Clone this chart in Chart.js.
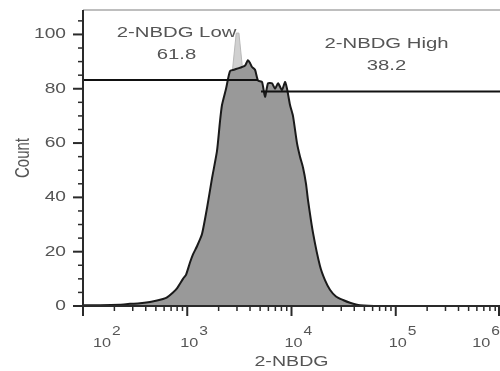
<!DOCTYPE html>
<html>
<head>
<meta charset="utf-8">
<script src="https://cdn.jsdelivr.net/npm/chart.js@4.4.1/dist/chart.umd.min.js"></script>
<style>
  html, body { margin: 0; padding: 0; background: #fff; }
  #wrap { width: 500px; height: 371px; }
</style>
</head>
<body>
<div id="wrap"><canvas id="histChart"></canvas></div>
<script>
// 2-NBDG fluorescence (x) and event count (y)
const histX = [100, 146, 226, 282, 352, 439, 513, 585, 640, 730,
  797, 910, 973, 1062, 1135, 1240, 1385, 1546, 1727, 1928,
  2061, 2154, 2355, 2570, 2806, 3069, 3350, 3581, 3826, 4000,
  4180, 4467, 4775, 5212, 5570, 5953, 6500, 6950, 7430, 8110,
  8670, 9060, 9680, 10330, 11290, 12070, 12890, 13780, 14400, 16070,
  18760, 20950, 23390, 26710, 31190, 36410, 45400, 70630, 1000000];
const histY = [0.3, 0.3, 0.5, 0.8, 1.0, 1.5, 2.0, 2.6, 3.2, 5,
  6.5, 10, 11.5, 16, 19, 22, 26.5, 36, 47, 57,
  68, 74, 80, 86.5, 87, 87.5, 88, 88.5, 90.5, 89.5,
  88, 87, 83, 82.5, 77, 82, 82, 80, 82, 79.5,
  82.5, 80, 74, 70, 60, 55, 51, 45, 39, 27,
  14.7, 9.5, 6, 3.5, 2.2, 1.2, 0.3, 0, 0];

// thin light spike at the top of the peak
const spikeX = [2700, 2950, 3130, 3400];
const spikeY = [86, 100.5, 100.5, 87];

// gates
const gateNames = ["2-NBDG Low", "2-NBDG High"];
const gatePct = ["61.8", "38.2"];
const gateFrom = [100, 5100];
const gateTo = [4780, 1000000];
const gateLevel = [83.2, 79];

// axes
const yTicks = [0, 20, 40, 60, 80, 100];
const yMinorStep = 5;
const xDecades = [2, 3, 4, 5, 6];
const xTitle = "2-NBDG";
const yTitle = "Count";

const FONT = '"Liberation Sans", Arial, sans-serif';
const TEXT = "#555";

function wideText(ctx, str, x, y, size, align, sx) {
  ctx.save();
  ctx.font = size + "px " + FONT;
  ctx.textAlign = align;
  ctx.textBaseline = "middle";
  ctx.translate(x, y);
  ctx.scale(sx, 1);
  ctx.fillStyle = TEXT;
  ctx.fillText(str, 0, 0);
  ctx.restore();
}

const frame = {
  id: "frame",
  afterDraw(chart) {
    const { ctx, chartArea: a, scales: { x, y } } = chart;
    const seg = (x1, y1, x2, y2) => {
      ctx.beginPath(); ctx.moveTo(x1, y1); ctx.lineTo(x2, y2); ctx.stroke();
    };
    ctx.save();
    // top border
    ctx.strokeStyle = "#a8a8a8";
    ctx.lineWidth = 1.5;
    seg(a.left, a.top, a.right, a.top);
    // axes
    ctx.strokeStyle = "#2a2a2a";
    ctx.lineWidth = 2;
    seg(a.left, a.top, a.left, a.bottom + 1);
    seg(a.left - 1, a.bottom, a.right, a.bottom);

    // y ticks
    for (let v = 0; v <= y.max; v += yMinorStep) {
      const py = y.getPixelForValue(v);
      const major = yTicks.includes(v);
      ctx.lineWidth = major ? 2 : 1.5;
      seg(a.left - (major ? 10 : 5), py, a.left, py);
    }
    // x ticks
    for (const e of xDecades) {
      for (let m = 1; m <= 9; m++) {
        const v = m * Math.pow(10, e);
        if (v > x.max) break;
        const px = Math.min(x.getPixelForValue(v), a.right - 1);
        ctx.lineWidth = m === 1 ? 2 : 1.5;
        seg(px, a.bottom, px, a.bottom + (m === 1 ? 10 : 5));
      }
    }
    ctx.restore();

    // y labels
    yTicks.forEach(v => {
      wideText(ctx, String(v), a.left - 17, y.getPixelForValue(v), 14, "right", 1.37);
    });

    // x labels: 10 with superscript exponent
    const sx = 1.3;
    xDecades.forEach(e => {
      ctx.save();
      ctx.font = "12.5px " + FONT;
      const w1 = ctx.measureText("10").width * sx;
      ctx.font = "12px " + FONT;
      const w2 = ctx.measureText(String(e)).width * sx;
      ctx.restore();
      const px = x.getPixelForValue(Math.pow(10, e));
      let left = px - w1 / 2 + 2;
      left = Math.max(left, a.left + 10);
      left = Math.min(left, chart.width - w1 - w2 - 1);
      wideText(ctx, "10", left, a.bottom + 38, 12.5, "left", sx);
      wideText(ctx, String(e), left + w1 + 1, a.bottom + 26, 12, "left", sx);
    });

    // axis titles
    wideText(ctx, xTitle, (a.left + a.right) / 2, 362, 14, "center", 1.4);
    ctx.save();
    ctx.translate(23, (a.top + a.bottom) / 2);
    ctx.scale(1.4, 1);
    ctx.rotate(-Math.PI / 2);
    ctx.font = "15px " + FONT;
    ctx.fillStyle = TEXT;
    ctx.textAlign = "center";
    ctx.textBaseline = "middle";
    ctx.fillText(yTitle, 0, 0);
    ctx.restore();

    // gate labels
    gateNames.forEach((name, i) => {
      const x1 = x.getPixelForValue(gateFrom[i]);
      const x2 = Math.min(x.getPixelForValue(gateTo[i]), a.right);
      const cx = (x1 + x2) / 2 + 6;
      const ly = y.getPixelForValue(gateLevel[i]);
      wideText(ctx, name, cx, ly - 47, 14, "center", 1.45);
      wideText(ctx, gatePct[i], cx, ly - 25, 14, "center", 1.45);
    });
  }
};

const gateSet = i => ({
  data: [{ x: gateFrom[i], y: gateLevel[i] }, { x: gateTo[i], y: gateLevel[i] }],
  borderColor: "#111",
  borderWidth: 2,
  pointRadius: 0,
  fill: false
});

new Chart(document.getElementById("histChart"), {
  type: "line",
  data: {
    datasets: [
      gateSet(0),
      gateSet(1),
      {
        data: histX.map((v, i) => ({ x: v, y: histY[i] })),
        borderColor: "#1a1a1a",
        borderWidth: 2,
        backgroundColor: "#999999",
        fill: "origin",
        pointRadius: 0,
        tension: 0.2
      },
      {
        data: spikeX.map((v, i) => ({ x: v, y: spikeY[i] })),
        borderColor: "#b8b8b8",
        borderWidth: 1,
        backgroundColor: "#d0d0d0",
        fill: "origin",
        pointRadius: 0,
        tension: 0
      }
    ]
  },
  options: {
    responsive: true,
    maintainAspectRatio: false,
    animation: false,
    layout: { padding: { top: 10, right: 0, left: 0, bottom: 0 } },
    plugins: { legend: { display: false }, tooltip: { enabled: false } },
    scales: {
      x: {
        type: "logarithmic",
        min: 100,
        max: 1000000,
        ticks: { display: false },
        grid: { display: false },
        border: { display: false },
        afterFit: s => { s.height = 65; }
      },
      y: {
        min: 0,
        max: 109,
        ticks: { display: false },
        grid: { display: false },
        border: { display: false },
        afterFit: s => { s.width = 83; }
      }
    }
  },
  plugins: [frame]
});
</script>
</body>
</html>
